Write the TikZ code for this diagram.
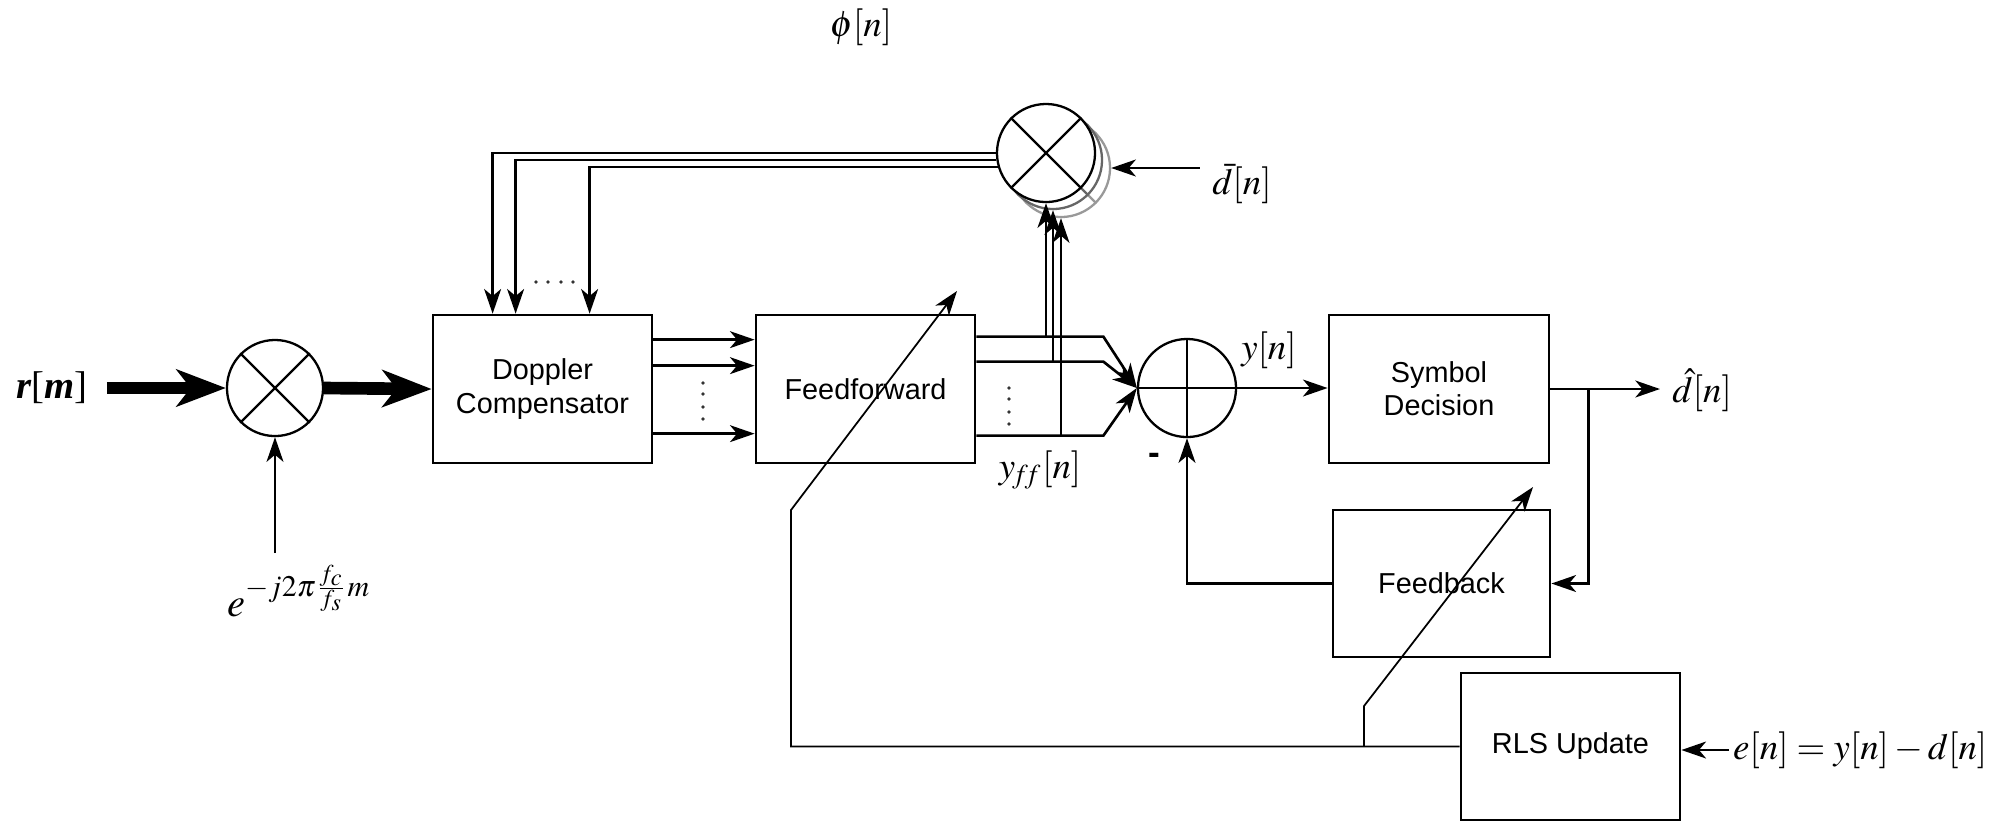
\documentclass[tikz,border=0pt]{standalone}
\usepackage{mathptmx}
\usepackage[no-math]{fontspec}
\newfontfamily\boxfont{Liberation Sans}
\newfontfamily\tms{Liberation Serif}
\usetikzlibrary{arrows.meta,calc}
\begin{document}
\begin{tikzpicture}[x=0.01cm,y=-0.01cm,
  blk/.style={draw, line width=0.75pt, inner sep=0pt, align=center,
    font=\boxfont\fontsize{8.2}{9.4}\selectfont},
  mix/.style={draw, circle, line width=0.65pt, inner sep=0pt, minimum size=0.97cm, fill=white},
  arr/.style={line width=0.75pt, -{Stealth[length=7pt,width=4.8pt,inset=2pt]}},
  thinarr/.style={line width=0.5pt, -{Stealth[length=7pt,width=4.8pt,inset=2pt]}},
  thickarr/.style={line width=3.6pt, -{Stealth[length=14pt,width=10.5pt,inset=4pt]}},
  lbl/.style={font=\fontsize{10.5}{12}\selectfont},
  dotf/.style={fill=black!80}]
\useasboundingbox (0,0) rectangle (2000,838);

% blocks
\node[blk, minimum width=2.19cm, minimum height=1.48cm] (dop) at (542.5,389) {Doppler\\Compensator};
\node[blk, minimum width=2.19cm, minimum height=1.48cm] (ff) at (865.5,389) {Feedforward};
\node[blk, minimum width=2.20cm, minimum height=1.48cm] (sym) at (1439,389) {Symbol\\Decision};
\node[blk, minimum width=2.17cm, minimum height=1.47cm] (fb) at (1441.5,583.5) {Feedback};
\node[blk, minimum width=2.19cm, minimum height=1.47cm] (rls) at (1570.5,746.5) {RLS Update};

% input mixer
\node[mix, minimum size=0.96cm] (m1) at (275,388) {};
\draw[line width=0.65pt] (m1.north west) -- (m1.south east) (m1.north east) -- (m1.south west);

% summation node
\node[mix, minimum size=0.98cm] (s) at (1187,388) {};
\draw[line width=0.65pt] (s.north) -- (s.south) (s.west) -- (s.east);

% stacked mixer (phase)
\node[mix, draw=black!40, minimum size=0.98cm] (m2c) at (1061,168) {};
\draw[black!40, line width=0.65pt] (m2c.north west) -- (m2c.south east) (m2c.north east) -- (m2c.south west);
\node[mix, draw=black!60, minimum size=0.98cm] (m2b) at (1053,160) {};
\draw[black!60, line width=0.65pt] (m2b.north west) -- (m2b.south east) (m2b.north east) -- (m2b.south west);
\node[mix, minimum size=0.98cm] (m2) at (1046,153) {};
\draw[line width=0.65pt] (m2.north west) -- (m2.south east) (m2.north east) -- (m2.south west);

% labels
\node[font=\fontsize{11}{13}\selectfont] (rm) at (52,388) {\tms{\bfseries\itshape r}[{\bfseries\itshape m}]};
\node[font=\fontsize{11.5}{13}\selectfont] (expl) at (299,591) {$e^{-j2\pi\frac{f_c}{f_s}m}$};
\node[lbl] (phi) at (861,27) {$\phi[n]$};
\node[lbl] (dbar) at (1242,184) {$\bar{d}[n]$};
\node[lbl] (yn) at (1269,350) {$y[n]$};
\node[lbl] (yff) at (1040,470) {$y_{\!f\!f}[n]$};
\node[font=\boxfont\bfseries\fontsize{10}{12}\selectfont] (minus) at (1154,459) {-};
\node[lbl, anchor=west] (dhat) at (1660,390) {$\hat{d}[n]$};
\node[lbl, anchor=west, inner sep=1pt] (el) at (1729,750) {$e[n]=y[n]-d[n]$};

% input path
\draw[thickarr, shorten <=2pt] (rm.east |- m1.west) -- (m1.west);
\draw[thickarr] (m1.east) -- (dop.west);
\draw[arr] (m1.south |- expl.north) -- (m1.south);

% Doppler -> Feedforward
\foreach \o in {26,52,120}
  \draw[arr] ($(dop.north east)+(0,\o)$) -- ($(ff.north west)+(0,\o)$);
\foreach \y in {383,394,407,419}
  \fill[dotf] (703,\y) circle[radius=0.55pt];

% Feedforward -> sum
\coordinate (o1) at ($(ff.north east)+(0,23)$);
\coordinate (o2) at ($(ff.north east)+(0,48)$);
\coordinate (o3) at ($(ff.north east)+(0,122)$);
\draw[arr] (o1) -- ++(127,0) -- (s.west);
\draw[arr] (o2) -- ++(127,0) -- (s.west);
\draw[arr] (o3) -- ++(127,0) -- (s.west);
\foreach \y in {388,399,412,424}
  \fill[dotf] (1009,\y) circle[radius=0.55pt];

% taps up to phase mixer
\draw[arr] (m2.south |- o1) -- (m2.south);
\draw[arr] (m2b.south |- o2) -- (m2b.south);
\draw[arr] (m2c.south |- o3) -- (m2c.south);

% phase mixer -> Doppler
\draw[arr] (m2.west) -| ($(dop.north west)+(61,0)$);
\draw[arr] ($(m2.west)+(0.5,7)$) -| ($(dop.north west)+(84,0)$);
\draw[arr] ($(m2.west)+(2,14)$) -| ($(dop.north west)+(158,0)$);
\foreach \x in {536,548,561,573}
  \fill[dotf] (\x,282) circle[radius=0.55pt];

\draw[arr] (dbar.west |- m2c.east) -- (m2c.east);

% sum -> decision -> output
\draw[arr] (s.east) -- (sym.west |- s.east);
\draw[arr] (sym.east) -- (sym.east -| dhat.west);
\draw[arr] ($(sym.east)+(38,0)$) |- (fb.east);
\draw[arr] (fb.west) -| (s.south);

% RLS
\draw[arr] (el.west) -- (rls.east |- el.west);
\coordinate (c1) at (791,746.5);
\coordinate (c2) at (791,510);
\coordinate (ffadj) at (957,291);
\draw[thinarr] (rls.west) -- (c1) -- (c2) -- (ffadj);
\coordinate (b1) at (1364,746.5);
\coordinate (b2) at (1364,706);
\coordinate (fbadj) at (1533,487);
\draw[thinarr] (b1) -- (b2) -- (fbadj);
\end{tikzpicture}
\end{document}
